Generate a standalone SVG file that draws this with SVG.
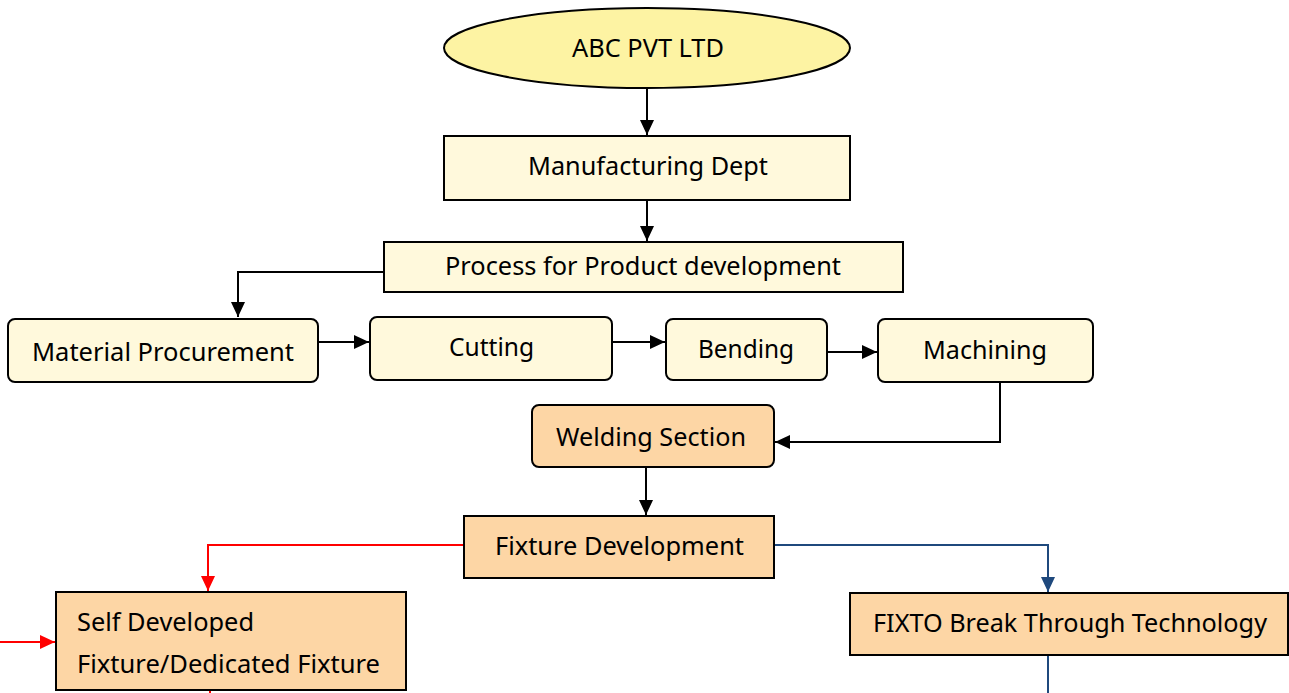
<svg xmlns="http://www.w3.org/2000/svg" width="1289" height="693" viewBox="0 0 1289 693">
<style>
  .t{font-family:"Noto Sans","Liberation Sans",sans-serif;font-size:26px;fill:#000}
  .cream{fill:#FFF9DC;stroke:#000;stroke-width:2}
  .peach{fill:#FDD6A5;stroke:#000;stroke-width:2}
  .k{fill:none;stroke:#000;stroke-width:2}
  .r{fill:none;stroke:#FF0000;stroke-width:2}
  .b{fill:none;stroke:#1F497D;stroke-width:2}
</style>
<defs>
  <marker id="ak" markerUnits="userSpaceOnUse" markerWidth="16" markerHeight="14" refX="15" refY="7" orient="auto"><path d="M0,0 L15,7 L0,14 Z" fill="#000"/></marker>
  <marker id="ar" markerUnits="userSpaceOnUse" markerWidth="16" markerHeight="14" refX="15" refY="7" orient="auto"><path d="M0,0 L15,7 L0,14 Z" fill="#FF0000"/></marker>
  <marker id="ab" markerUnits="userSpaceOnUse" markerWidth="16" markerHeight="14" refX="15" refY="7" orient="auto"><path d="M0,0 L15,7 L0,14 Z" fill="#1F497D"/></marker>
</defs>
<rect width="1289" height="693" fill="#fff"/>
<g id="connectors">
  <path class="k" d="M647,88 V135" marker-end="url(#ak)"/>
  <path class="k" d="M647,200 V241" marker-end="url(#ak)"/>
  <path class="k" d="M384,272 H238 V317" marker-end="url(#ak)"/>
  <path class="k" d="M318,342 H369" marker-end="url(#ak)"/>
  <path class="k" d="M612,342 H665" marker-end="url(#ak)"/>
  <path class="k" d="M827,352 H877" marker-end="url(#ak)"/>
  <path class="k" d="M1000,382 V442 H775" marker-end="url(#ak)"/>
  <path class="k" d="M646,467 V515" marker-end="url(#ak)"/>
  <path class="r" d="M464,545 H208 V591" marker-end="url(#ar)"/>
  <path class="r" d="M0,642 H55" marker-end="url(#ar)"/>
  <path class="r" d="M210,690 V693"/>
  <path class="b" d="M774,545 H1048 V592" marker-end="url(#ab)"/>
  <path class="b" d="M1048,655 V693"/>
</g>
<g id="abc">
  <ellipse cx="647" cy="48" rx="203" ry="40" fill="#FDF3A3" stroke="#000" stroke-width="2"/>
  <text class="t" x="572" y="57" textLength="152" lengthAdjust="spacingAndGlyphs">ABC PVT LTD</text>
</g>
<g id="manufacturing">
  <rect class="cream" x="444" y="136" width="406" height="64"/>
  <text class="t" x="528" y="175" textLength="240" lengthAdjust="spacingAndGlyphs">Manufacturing Dept</text>
</g>
<g id="process">
  <rect class="cream" x="384" y="242" width="519" height="50"/>
  <text class="t" x="445" y="275" textLength="396" lengthAdjust="spacingAndGlyphs">Process for Product development</text>
</g>
<g id="material">
  <rect class="cream" x="8" y="319" width="310" height="63" rx="7"/>
  <text class="t" x="32" y="361" textLength="262" lengthAdjust="spacingAndGlyphs">Material Procurement</text>
</g>
<g id="cutting">
  <rect class="cream" x="370" y="317" width="242" height="63" rx="7"/>
  <text class="t" x="449" y="356" textLength="85" lengthAdjust="spacingAndGlyphs">Cutting</text>
</g>
<g id="bending">
  <rect class="cream" x="666" y="319" width="161" height="61" rx="7"/>
  <text class="t" x="698" y="358" textLength="96" lengthAdjust="spacingAndGlyphs">Bending</text>
</g>
<g id="machining">
  <rect class="cream" x="878" y="319" width="215" height="63" rx="7"/>
  <text class="t" x="923" y="359" textLength="124" lengthAdjust="spacingAndGlyphs">Machining</text>
</g>
<g id="welding">
  <rect class="peach" x="532" y="405" width="242" height="62" rx="7"/>
  <text class="t" x="556" y="446" textLength="190" lengthAdjust="spacingAndGlyphs">Welding Section</text>
</g>
<g id="fixture">
  <rect class="peach" x="464" y="516" width="310" height="62"/>
  <text class="t" x="495" y="555" textLength="249" lengthAdjust="spacingAndGlyphs">Fixture Development</text>
</g>
<g id="self">
  <rect class="peach" x="56" y="592" width="350" height="98"/>
  <text class="t" x="77" y="631" textLength="177" lengthAdjust="spacingAndGlyphs">Self Developed</text>
  <text class="t" x="77" y="673" textLength="303" lengthAdjust="spacingAndGlyphs">Fixture/Dedicated Fixture</text>
</g>
<g id="fixto">
  <rect class="peach" x="850" y="593" width="438" height="62"/>
  <text class="t" x="873" y="632" textLength="394" lengthAdjust="spacingAndGlyphs">FIXTO Break Through Technology</text>
</g>
</svg>
